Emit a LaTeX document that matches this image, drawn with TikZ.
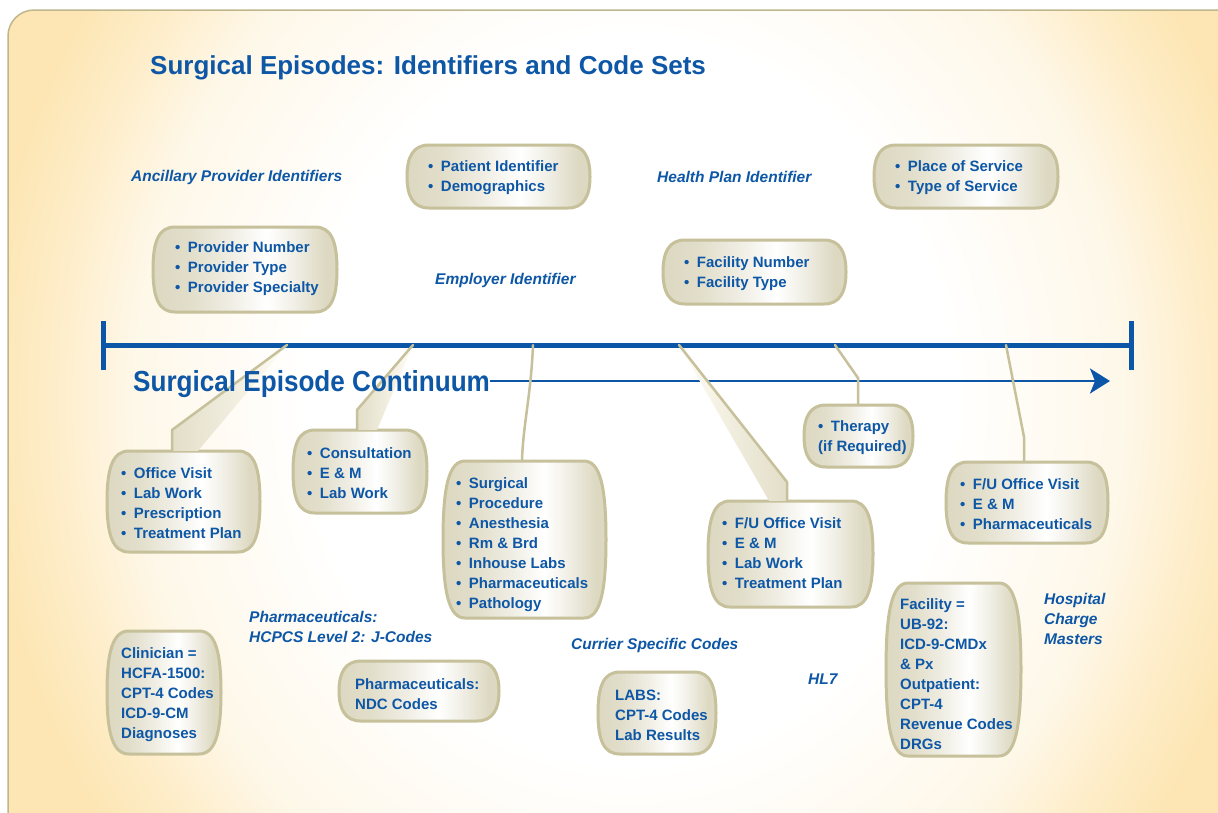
\documentclass[tikz,border=0pt]{standalone}
\usepackage{fontspec}
\setmainfont{Liberation Sans}
\newfontfamily\condensedfont{Liberation Sans}[FakeStretch=0.9]
\usetikzlibrary{arrows.meta}

\definecolor{inkblue}{RGB}{13,87,166}
\definecolor{lineblue}{RGB}{12,86,168}
\definecolor{peach}{RGB}{253,230,180}
\definecolor{rim}{RGB}{198,192,155}
\definecolor{khakifill}{RGB}{220,216,193}
\definecolor{edge}{RGB}{190,182,140}
\definecolor{sheenfill}{RGB}{226,222,200}
\definecolor{cream}{RGB}{255,252,244}

% page glow: white centre, peach rim
\pgfdeclareradialshading{glow}{\pgfpoint{0bp}{0bp}}{color(0bp)=(white); color(13bp)=(white); color(20bp)=(peach!30!white); color(23bp)=(peach!70!white); color(26bp)=(peach); color(50bp)=(peach)}
% barrel fill: khaki at the sides, white highlight right of centre
\pgfdeclarehorizontalshading{barrelfill}{100bp}{color(0bp)=(khakifill); color(25bp)=(khakifill); color(35bp)=(khakifill!85!white); color(47bp)=(khakifill!40!white); color(56bp)=(white); color(64bp)=(khakifill!45!white); color(72bp)=(khakifill); color(100bp)=(khakifill)}

\pgfdeclarelayer{paper}
\pgfdeclarelayer{frames}
\pgfsetlayers{paper,frames,main}

% bullet followed by a wide gap
\newcommand\bul{•\hspace{7.5pt}}

\tikzset{
  boxtext/.style={inner sep=0pt, anchor=west, align=left, text=inkblue,
    font=\fontsize{15}{20}\selectfont\bfseries},
  tag/.style={inner sep=0pt, anchor=west, align=left, text=inkblue,
    font=\fontsize{15.5}{20}\selectfont\bfseries\itshape},
  boxframe/.style={inner sep=0pt, draw=none},
  barrel/.style={shade, shading=barrelfill, shading angle=0, draw=rim, line width=3pt},
  conn/.style={draw=rim, line width=2.5pt, line join=round, line cap=round},
  spine/.style={draw=lineblue, line width=5pt},
}

% barrel-shaped box: name, left, top, right, bottom, text anchor, text
\newcommand\barrelbox[7]{%
  \pgfmathsetmacro\bxcx{(#2+#4)/2}%
  \pgfmathsetmacro\bxcy{(#3+#5)/2}%
  \pgfmathsetmacro\bxw{#4-#2}%
  \pgfmathsetmacro\bxh{#5-#3}%
  \pgfmathsetmacro\bxk{max(12,0.16*(#5-#3))}%
  \begin{pgfonlayer}{frames}
    \path[barrel] (#2+22,#3) -- (#4-22,#3)
      .. controls (#4-6,#3) and (#4,#3+\bxk) .. (#4,\bxcy)
      .. controls (#4,#5-\bxk) and (#4-6,#5) .. (#4-22,#5)
      -- (#2+22,#5)
      .. controls (#2+6,#5) and (#2,#5-\bxk) .. (#2,\bxcy)
      .. controls (#2,#3+\bxk) and (#2+6,#3) .. (#2+22,#3) -- cycle;
  \end{pgfonlayer}
  \node[boxframe, minimum width=\bxw pt, minimum height=\bxh pt] (#1) at (\bxcx,\bxcy) {};
  \node[boxtext] (#1txt) at ([yshift=-2pt]#6) {#7};
}

\begin{document}
\begin{tikzpicture}[x=1pt,y=-1pt]
\useasboundingbox (0,0) rectangle (1218,812);

% page
\begin{pgfonlayer}{paper}
  \begin{scope}
    \clip[rounded corners=26pt] (8,10) rectangle (1250,850);
    \shade[shading=glow] (8,-300) rectangle (1250,1100);
  \end{scope}
  \draw[edge, line width=1.5pt, rounded corners=26pt] (8,10) rectangle (1250,850);
\end{pgfonlayer}

% headings
\node[anchor=base west, inner sep=0pt, text=inkblue, font=\fontsize{26}{30}\selectfont\bfseries]
  (title) at (150,74) {Surgical Episodes: Identifiers and Code Sets};
\node[anchor=base west, inner sep=0pt, text=inkblue, font=\condensedfont\fontsize{29}{32}\selectfont\bfseries]
  (cont) at (133,391) {Surgical Episode Continuum};

% boxes
\barrelbox{patient}{407}{145}{590}{208}{428,176}{\bul Patient Identifier\\\bul Demographics}
\barrelbox{place}{874}{145}{1058}{208}{895,176}{\bul Place of Service\\\bul Type of Service}
\barrelbox{provider}{153}{227}{337}{312}{175,267}{\bul Provider Number\\\bul Provider Type\\\bul Provider Specialty}
\barrelbox{facility}{663}{240}{846}{304}{684,272}{\bul Facility Number\\\bul Facility Type}
\barrelbox{office}{107}{451}{260}{552}{121,501}{\bul Office Visit\\\bul Lab Work\\\bul Prescription\\\bul Treatment Plan}
\barrelbox{consult}{293}{430}{427}{513}{307,471}{\bul Consultation\\\bul E \& M\\\bul Lab Work}
\barrelbox{surgery}{443}{461}{606}{618}{456,543}{\bul Surgical\\\bul Procedure\\\bul Anesthesia\\\bul Rm \& Brd\\\bul Inhouse Labs\\\bul Pharmaceuticals\\\bul Pathology}
\barrelbox{therapy}{804}{405}{913}{467}{818,436}{\bul Therapy\\(if Required)}
\barrelbox{followA}{708}{501}{873}{607}{722,551}{\bul F/U Office Visit\\\bul E \& M\\\bul Lab Work\\\bul Treatment Plan}
\barrelbox{followB}{946}{462}{1108}{543}{960,502}{\bul F/U Office Visit\\\bul E \& M\\\bul Pharmaceuticals}
\barrelbox{clinician}{107}{631}{221}{754}{121,693}{Clinician =\\HCFA-1500:\\CPT-4 Codes\\ICD-9-CM\\Diagnoses}
\barrelbox{ndc}{339}{661}{499}{721}{355,692}{Pharmaceuticals:\\NDC Codes}
\barrelbox{labs}{598}{672}{716}{754}{615,713}{LABS:\\CPT-4 Codes\\Lab Results}
\barrelbox{ub}{886}{583}{1021}{756}{900,672}{Facility =\\UB-92:\\ICD-9-CMDx\\\& Px\\Outpatient:\\CPT-4\\Revenue Codes\\DRGs}

% free labels
\node[tag] (ancillary) at (131,177) {Ancillary Provider Identifiers};
\node[tag] (healthplan) at (657,177) {Health Plan Identifier};
\node[tag] (employer) at (435,280) {Employer Identifier};
\node[tag] (hcpcs) at (249,627) {Pharmaceuticals:\\HCPCS Level 2: J-Codes};
\node[tag] (currier) at (571,645) {Currier Specific Codes};
\node[tag] (hl7) at (808,679) {HL7};
\node[tag] (charge) at (1044,619) {Hospital\\Charge\\Masters};

% timeline points and bends
\coordinate (tl) at (103,345);
\coordinate (tr) at (1131,345);
\coordinate (tip) at (1110,381);
\coordinate (a1) at (287,345);  \coordinate (k1) at (172,430);
\coordinate (a2) at (413,345);  \coordinate (k2) at (357,410);
\coordinate (a3) at (533,345);  \coordinate (k3) at (522,440);
\coordinate (a4) at (679,345);  \coordinate (k4) at (787,482);
\coordinate (a5) at (835,345);  \coordinate (k5) at (858,378);
\coordinate (a6) at (1006,345); \coordinate (k6) at (1024,437);

\begin{pgfonlayer}{frames}
  % continuum axis
  \draw[spine] (tl) -- (tr);
  \draw[spine] ([yshift=24pt]tl) -- ([yshift=-25pt]tl);
  \draw[spine] ([yshift=24pt]tr) -- ([yshift=-25pt]tr);
  \draw[lineblue, line width=2.5pt, -{Stealth[length=20pt, width=25pt, inset=5pt]}]
    (cont.east |- tip) -- (tip);

  % pointers from the axis to the boxes
  \shade[left color=sheenfill, right color=cream]
    (a1) -- (k1) -- (k1 |- office.north) -- ([xshift=26pt]k1 |- office.north) -- cycle;
  \draw[conn] (a1) -- (k1) -- (k1 |- office.north);

  \shade[left color=sheenfill, right color=cream]
    (a2) -- (k2) -- (k2 |- consult.north) -- ([xshift=20pt]k2 |- consult.north) -- cycle;
  \draw[conn] (a2) -- (k2) -- (k2 |- consult.north);

  \draw[conn] (a3) .. controls (531,395) and (523,425) .. (k3 |- surgery.north);

  \shade[left color=cream, right color=sheenfill]
    (a4) -- (k4) -- (k4 |- followA.north) -- ([xshift=-18pt]k4 |- followA.north) -- cycle;
  \draw[conn] (a4) -- (k4) -- (k4 |- followA.north);

  \draw[conn] (a5) -- (k5) -- (k5 |- therapy.north);
  \draw[conn] (a6) -- (k6) -- (k6 |- followB.north);
\end{pgfonlayer}
\end{tikzpicture}
\end{document}
